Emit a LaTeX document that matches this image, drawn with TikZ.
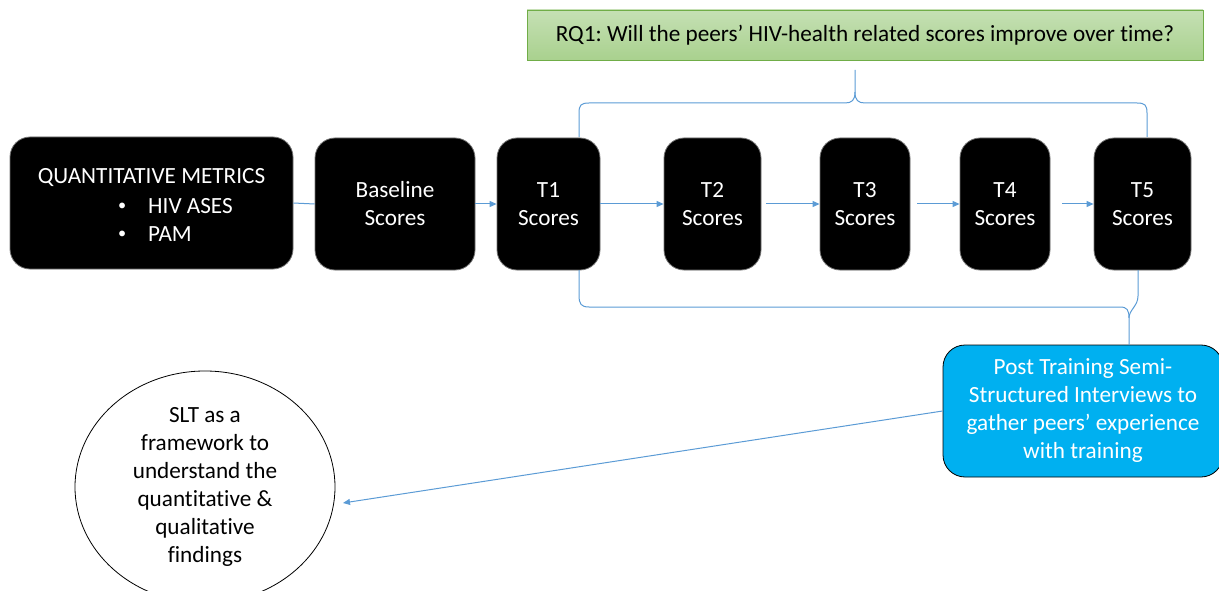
\documentclass[tikz,border=0pt]{standalone}
\usepackage{fontspec}
\setmainfont{Carlito}[Ligatures={NoCommon}]
\usetikzlibrary{arrows.meta,shapes.geometric}
\definecolor{conn}{HTML}{5B9BD5}
\definecolor{gfill}{HTML}{A9D18E}
\definecolor{gfilltop}{HTML}{C5E0B4}
\definecolor{gborder}{HTML}{70AD47}
\definecolor{cyanbox}{HTML}{00B0F0}
\newcommand{\smallbul}{\raisebox{2.5pt}{\scalebox{0.7}{\textbullet}}}
\frenchspacing
\begin{document}
\begin{tikzpicture}[x=1pt,y=-1pt,
  txt/.style={font=\fontsize{23.2}{28}\selectfont},
  blk/.style={draw=black!55, line width=0.8pt, fill=black, rounded corners=20pt, text=white, align=center, inner sep=0pt, txt, minimum height=132pt},
  wtxt/.style={text=white, inner sep=0pt, txt},
  cline/.style={draw=conn, line width=1pt},
  arr/.style={cline, -{Triangle[length=7pt,width=6pt]}},
]
\useasboundingbox (0,0) rectangle (1219,591);

% top question box
\node[draw=gborder, line width=0.8pt, top color=gfilltop, bottom color=gfill, minimum width=676pt, minimum height=50pt, inner sep=0pt, txt] (rq) at (865,35) {RQ1: Will the peers’ HIV-health related scores improve over time?};

% black boxes
\node[blk, minimum width=283pt] (qm) at (151.5,203) {};
\node[wtxt] (qmt) at (151.5,178) {QUANTITATIVE METRICS};
\node[wtxt, anchor=west] (qmb1) at (118,206) {\makebox[30pt][l]{\smallbul}HIV ASES};
\node[wtxt, anchor=west] (qmb2) at (118,234) {\makebox[30pt][l]{\smallbul}PAM};

\node[blk, minimum width=160pt] (base) at (395,204) {Baseline\\Scores};
\node[blk, minimum width=103pt] (t1) at (548.5,204) {T1\\Scores};
\node[blk, minimum width=97pt] (t2) at (712.5,204) {T2\\Scores};
\node[blk, minimum width=90pt] (t3) at (865,204) {T3\\Scores};
\node[blk, minimum width=90pt] (t4) at (1005,204) {T4\\Scores};
\node[blk, minimum width=97pt] (t5) at (1142.5,204) {T5\\Scores};

% post training box
\node[draw=black, line width=0.8pt, fill=cyanbox, rounded corners=22pt, minimum width=280pt, minimum height=132pt, inner sep=0pt, text=white, align=center, txt] (post) at (1083,411) {Post Training Semi-\\Structured Interviews to\\gather peers’ experience\\with training};

% SLT ellipse
\node[draw=black, line width=0.8pt, ellipse, minimum width=260pt, minimum height=232pt, inner sep=0pt, align=center, txt] (slt) at (205,487) {SLT as a\\framework to\\understand the\\quantitative \&\\qualitative\\findings};

% connectors
\draw[cline] (qm.east) -- (base.west);
\draw[arr] (base.east) -- (t1.west);
\draw[arr] (t1.east) -- (t2.west);
\draw[arr, shorten <=5pt] (t2.east) -- (t3.west);
\draw[arr, shorten <=7pt] (t3.east) -- (t4.west);
\draw[arr, shorten <=12pt] (t4.east) -- (t5.west);

\coordinate (slttip) at (343,503);
\draw[arr] (post.west) -- (slttip);

% top brace
\coordinate (rqtip) at (855,70);
\draw[cline] (579,137) -- (579,113) .. controls (579,105) and (581,103) .. (589,103) -- (845,103) .. controls (852,103) and (855,100) .. (855,92) -- (rqtip);
\draw[cline] (855,92) .. controls (855,100) and (858,103) .. (865,103) -- (1137,103) .. controls (1145,103) and (1147,105) .. (1147,113) -- (1147,137);

% bottom brace
\coordinate (posttip) at (1129,345);
\draw[cline] (579,270) -- (579,295) .. controls (579,304) and (581,307) .. (589,307) -- (1120,307) .. controls (1127,307) and (1129,310) .. (1129,318) -- (posttip);
\draw[cline] (1129,318) .. controls (1129,310) and (1138,306) .. (1138,296) -- (1138,270);
\end{tikzpicture}
\end{document}
